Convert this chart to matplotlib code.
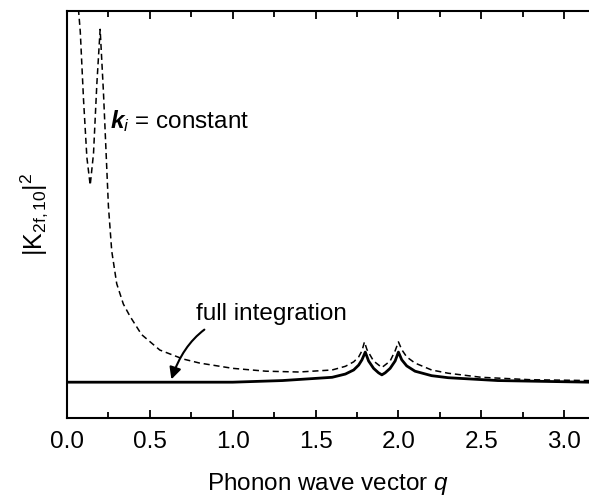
import matplotlib
matplotlib.use('Agg')
import matplotlib.pyplot as plt
from matplotlib.ticker import MultipleLocator

plt.rcParams['font.family'] = ['Liberation Sans', 'DejaVu Sans']
plt.rcParams['mathtext.fontset'] = 'custom'
plt.rcParams['mathtext.rm'] = 'Liberation Sans'
plt.rcParams['mathtext.it'] = 'Liberation Sans:italic'
plt.rcParams['mathtext.bf'] = 'Liberation Sans:bold'
plt.rcParams['mathtext.bfit'] = 'Liberation Sans:bold:italic'

# dashed curve: k_i = constant
q_const = [0.06, 0.08, 0.10, 0.12, 0.14, 0.16, 0.18, 0.20, 0.22, 0.25, 0.27,
           0.30, 0.34, 0.38, 0.45, 0.56, 0.70, 0.80, 1.00, 1.20, 1.40, 1.60,
           1.68, 1.73, 1.76, 1.78, 1.795, 1.81, 1.85, 1.90, 1.95, 1.98, 2.00,
           2.02, 2.05, 2.10, 2.20, 2.30, 2.50, 2.80, 3.15]
k_const = [1.05, 0.95, 0.78, 0.64, 0.572, 0.65, 0.82, 0.955, 0.80, 0.52, 0.41,
           0.33, 0.28, 0.25, 0.205, 0.167, 0.145, 0.135, 0.122, 0.115, 0.113, 0.118,
           0.127, 0.138, 0.150, 0.165, 0.187, 0.168, 0.140, 0.124, 0.140, 0.165, 0.187,
           0.168, 0.150, 0.135, 0.118, 0.110, 0.100, 0.094, 0.092]

# solid curve: full integration
q_full = [0.0, 1.0, 1.3, 1.6, 1.68, 1.73, 1.76, 1.78, 1.80, 1.82, 1.85, 1.88,
          1.90, 1.92, 1.95, 1.98, 2.00, 2.02, 2.05, 2.10, 2.20, 2.30, 2.60, 3.15]
k_full = [0.088, 0.088, 0.092, 0.100, 0.108, 0.118, 0.130, 0.143, 0.162, 0.140,
          0.122, 0.111, 0.106, 0.111, 0.122, 0.140, 0.162, 0.143, 0.128, 0.115,
          0.104, 0.099, 0.092, 0.088]

fig = plt.figure(figsize=(5.89, 4.99), dpi=100)
ax = fig.add_axes([67 / 589, 81 / 499, 522 / 589, 407 / 499])

ax.plot(q_const, k_const, color='black', linestyle=(0, (4, 2.5)), linewidth=1.1)
ax.plot(q_full, k_full, color='black', linewidth=2.0)

ax.set_xlim(0, 3.15)
ax.set_ylim(0, 1)
ax.xaxis.set_minor_locator(MultipleLocator(0.25))
ax.set_xticks([0, 0.5, 1.0, 1.5, 2.0, 2.5, 3.0])
ax.set_xticklabels(['0.0', '0.5', '1.0', '1.5', '2.0', '2.5', '3.0'])
ax.set_yticks([])
ax.tick_params(axis='x', which='both', direction='in', top=True, labelsize=17.5, pad=9)
ax.tick_params(axis='x', which='major', length=6, width=1.3)
ax.tick_params(axis='x', which='minor', length=4, width=1.3)
for s in ['left', 'bottom', 'top']:
    ax.spines[s].set_linewidth(1.5)
ax.spines['right'].set_visible(False)

ax.set_xlabel(r'Phonon wave vector $q$', fontsize=17.5, labelpad=13)
ax.set_ylabel(r'|K$_{\mathrm{2f,10}}$|$^2$', fontsize=18, labelpad=12)

ax.text(0.26, 0.73, r'$\mathbfit{k}_i$ = constant', fontsize=17.5, va='center')
ax.annotate('full integration', xy=(0.63, 0.095), xytext=(0.78, 0.255),
            fontsize=17.5, va='center',
            arrowprops=dict(arrowstyle='-|>', color='black', lw=1.5,
                            connectionstyle='arc3,rad=0.4', shrinkA=2, shrinkB=0))

fig.savefig('out.png', dpi=100)
